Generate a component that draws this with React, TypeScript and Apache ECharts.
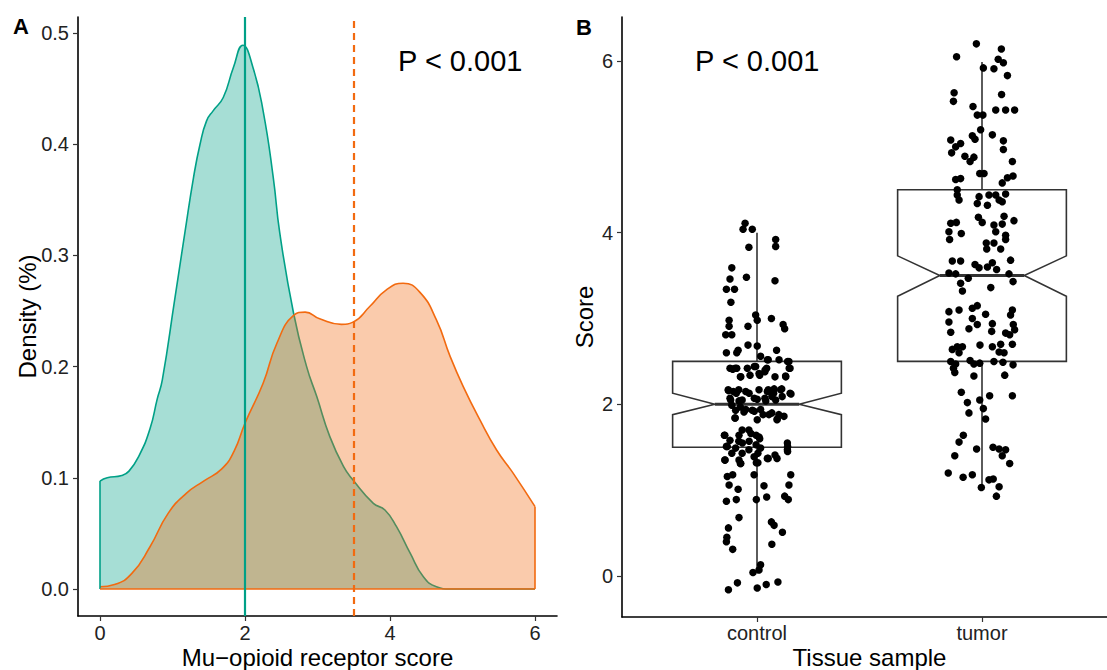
import React, { useEffect, useRef } from "react";
import * as echarts from "echarts";

const FONT = "'Liberation Sans', Arial, Helvetica, sans-serif";
const GREEN = "#00A087";
const ORANGE = "#F26A10";

// ---------- Panel A: density ----------
const densityXTicks = [0, 2, 4, 6];
const densityYTicks = [0, 0.1, 0.2, 0.3, 0.4, 0.5];

const controlDensityX = [0, 0.1, 0.3, 0.4, 0.54, 0.69, 0.79, 0.86, 1.03, 1.17, 1.29, 1.38, 1.47, 1.56, 1.7, 1.84, 1.97, 2.11, 2.25, 2.39, 2.48, 2.67, 2.85, 2.99, 3.17, 3.36, 3.49, 3.77, 3.93, 4.09, 4.28, 4.46, 4.64, 4.83, 6];
const controlDensityY = [0.097, 0.1, 0.102, 0.106, 0.12, 0.144, 0.171, 0.188, 0.26, 0.32, 0.37, 0.4, 0.421, 0.43, 0.442, 0.469, 0.489, 0.469, 0.43, 0.37, 0.32, 0.248, 0.2, 0.173, 0.137, 0.11, 0.098, 0.077, 0.071, 0.056, 0.032, 0.011, 0.002, 0, 0];

const tumorDensityX = [0, 0.2, 0.44, 0.69, 0.94, 1.19, 1.43, 1.68, 1.85, 2.0, 2.25, 2.44, 2.67, 2.83, 3.03, 3.33, 3.49, 3.72, 3.95, 4.18, 4.41, 4.64, 4.83, 5.01, 5.24, 5.47, 5.7, 6.0];
const tumorDensityY = [0.002, 0.004, 0.014, 0.038, 0.068, 0.086, 0.097, 0.108, 0.124, 0.149, 0.185, 0.221, 0.246, 0.249, 0.243, 0.238, 0.24, 0.254, 0.269, 0.275, 0.267, 0.242, 0.209, 0.182, 0.152, 0.125, 0.104, 0.074];

// medians drawn as vertical lines: control (solid), tumor (dashed)
const medianLines = [2, 3.5];

// ---------- Panel B: notched box plot + jitter ----------
const tissueCategories = ["control", "tumor"];
const scoreYTicks = [0, 2, 4, 6];
const boxLower = [0.03, 1.04];
const boxQ1 = [1.5, 2.5];
const boxNotchLow = [1.88, 3.26];
const boxMedian = [2.0, 3.5];
const boxNotchHigh = [2.13, 3.73];
const boxQ3 = [2.5, 4.5];
const boxUpper = [4.0, 5.99];

// [horizontal jitter (category units), score]
const controlPoints = [
  [-0.053, 4.11], [-0.062, 4.04], [-0.021, 4.04], [0.083, 3.92], [0.083, 3.84], [-0.036, 3.83], [-0.112, 3.59], [-0.12, 3.46], [-0.047, 3.48], [0.08, 3.44],
  [-0.136, 3.34], [-0.1, 3.34], [-0.116, 3.19], [-0.006, 3.04], [0.001, 2.98], [0.064, 3.0], [-0.04, 2.91], [0.116, 2.93], [0.123, 2.88], [-0.124, 2.98],
  [-0.124, 2.91], [-0.139, 2.81], [-0.112, 2.81], [-0.04, 2.69], [0.001, 2.68], [-0.084, 2.63], [-0.09, 2.6], [-0.136, 2.6], [0.087, 2.63], [0.016, 2.56],
  [0.046, 2.52], [0.098, 2.52], [0.142, 2.5], [0.147, 2.42], [-0.108, 2.41], [-0.09, 2.42], [-0.043, 2.42], [-0.006, 2.44], [0.036, 2.4], [-0.072, 2.32],
  [-0.031, 2.34], [0.009, 2.36], [0.08, 2.32], [0.127, 2.33], [-0.127, 2.16], [-0.092, 2.13], [-0.05, 2.15], [0.009, 2.17], [0.046, 2.15], [0.076, 2.18],
  [0.11, 2.18], [0.147, 2.13], [-0.117, 2.05], [-0.08, 2.04], [0.001, 2.06], [0.039, 2.04], [0.083, 2.05], [-0.095, 1.93], [-0.058, 1.91], [-0.021, 1.93],
  [0.016, 1.94], [0.053, 1.88], [0.09, 1.83], [0.12, 1.86], [-0.098, 1.84], [0.001, 1.82], [-0.145, 1.64], [-0.08, 1.64], [-0.036, 1.7], [0.009, 1.62],
  [-0.065, 1.55], [-0.132, 1.51], [-0.095, 1.49], [-0.036, 1.47], [0.016, 1.49], [0.135, 1.55], [0.135, 1.47], [-0.142, 1.35], [-0.08, 1.35], [-0.013, 1.39],
  [0.046, 1.37], [0.08, 1.41], [-0.072, 1.31], [-0.003, 1.32], [-0.132, 1.16], [-0.108, 1.18], [-0.013, 1.18], [0.15, 1.18], [-0.124, 1.06], [0.031, 1.05],
  [0.142, 1.06], [-0.084, 1.01], [-0.136, 0.87], [-0.092, 0.89], [-0.003, 0.89], [0.043, 0.92], [0.123, 0.93], [0.139, 0.89], [-0.08, 0.68], [0.064, 0.63],
  [0.076, 0.59], [0.113, 0.51], [-0.127, 0.56], [-0.134, 0.45], [-0.136, 0.4], [-0.108, 0.31], [0.066, 0.37], [0.016, 0.13], [0.009, 0.07], [-0.018, 0.04],
  [-0.087, -0.08], [-0.127, -0.16], [0.001, -0.14], [0.041, -0.1], [0.093, -0.07],
  [-0.12, 2.42], [-0.097, 2.42], [-0.012, 2.44], [0.043, 2.42], [0.05, 2.52], [0.136, 2.5], [0.143, 2.42], [-0.074, 2.32], [0.012, 2.34], [0.035, 2.38],
  [0.128, 2.32], [-0.128, 2.17], [-0.105, 2.15], [-0.081, 2.17], [-0.035, 2.13], [0.05, 2.17], [0.074, 2.13], [0.105, 2.17], [0.151, 2.12], [-0.12, 2.07],
  [-0.066, 2.05], [-0.012, 2.07], [0.035, 2.07], [0.066, 2.09], [0.112, 2.09], [-0.112, 1.99], [-0.074, 1.97], [-0.05, 1.94], [-0.012, 1.92], [0.027, 1.88],
  [0.066, 1.9], [0.097, 1.88], [-0.097, 1.84], [0.089, 1.82], [-0.143, 1.64], [-0.066, 1.7], [-0.027, 1.66], [-0.004, 1.64], [0.012, 1.6], [-0.12, 1.58],
  [-0.081, 1.57], [-0.035, 1.57], [-0.004, 1.53], [-0.136, 1.51], [-0.112, 1.43], [-0.066, 1.43], [0.004, 1.43], [0.05, 1.37], [0.089, 1.37], [0.136, 1.51],
  [0.136, 1.45], [-0.143, 1.35], [-0.074, 1.31], [0.004, 1.32],
];

const tumorPoints = [
  [-0.025, 6.2], [0.086, 6.14], [-0.113, 6.05], [0.072, 6.02], [0.095, 5.98], [0.006, 5.92], [0.053, 5.91], [0.113, 5.83], [-0.124, 5.63], [-0.127, 5.53],
  [0.087, 5.61], [-0.04, 5.47], [-0.021, 5.37], [0.004, 5.37], [0.061, 5.43], [0.105, 5.43], [0.145, 5.43], [-0.006, 5.2], [0.046, 5.14], [-0.043, 5.13],
  [-0.031, 5.09], [0.095, 5.07], [0.095, 4.97], [-0.139, 5.08], [-0.095, 5.04], [-0.117, 5.0], [-0.135, 4.93], [-0.076, 4.89], [-0.036, 4.88], [-0.053, 4.83],
  [0.135, 4.83], [-0.01, 4.69], [0.009, 4.69], [0.113, 4.64], [0.138, 4.66], [0.09, 4.58], [-0.117, 4.62], [-0.095, 4.63], [-0.11, 4.5], [-0.11, 4.44],
  [-0.102, 4.38], [-0.013, 4.42], [-0.021, 4.34], [0.024, 4.32], [0.031, 4.44], [0.061, 4.44], [0.076, 4.38], [0.09, 4.36], [0.105, 4.45], [-0.139, 4.11],
  [-0.114, 4.12], [-0.147, 4.01], [-0.144, 3.92], [-0.092, 3.99], [-0.016, 4.18], [0.001, 4.12], [0.053, 4.09], [0.098, 4.19], [0.142, 4.14], [0.09, 4.1],
  [0.061, 4.01], [0.105, 3.97], [0.105, 3.92], [0.019, 3.88], [0.053, 3.88], [0.021, 3.81], [0.083, 3.81], [-0.132, 3.67], [-0.095, 3.67], [-0.031, 3.63],
  [-0.013, 3.59], [0.024, 3.6], [0.046, 3.65], [0.065, 3.57], [0.127, 3.68], [-0.147, 3.53], [-0.117, 3.52], [-0.061, 3.47], [-0.095, 3.41], [-0.087, 3.32],
  [0.039, 3.36], [0.12, 3.52], [0.138, 3.43], [-0.147, 3.08], [-0.102, 3.1], [-0.043, 3.12], [-0.021, 3.15], [0.016, 3.05], [0.135, 3.1], [0.127, 3.04],
  [-0.147, 2.96], [-0.043, 3.0], [-0.021, 2.93], [0.046, 2.94], [0.139, 2.93], [0.145, 2.87], [-0.139, 2.84], [-0.058, 2.88], [0.043, 2.85], [0.105, 2.83],
  [0.123, 2.81], [-0.132, 2.64], [-0.11, 2.67], [-0.087, 2.67], [-0.102, 2.6], [-0.009, 2.69], [0.046, 2.67], [0.083, 2.7], [0.076, 2.61], [0.098, 2.6],
  [0.135, 2.7], [-0.139, 2.5], [-0.117, 2.47], [-0.127, 2.42], [-0.121, 2.37], [-0.053, 2.51], [-0.036, 2.47], [-0.01, 2.48], [0.053, 2.5], [0.093, 2.49],
  [0.138, 2.46], [-0.036, 2.33], [0.101, 2.34], [-0.092, 2.14], [0.034, 2.1], [0.135, 2.1], [-0.065, 2.02], [-0.01, 2.05], [0.006, 1.95], [-0.058, 1.9],
  [0.016, 1.83], [-0.083, 1.64], [-0.102, 1.56], [-0.121, 1.4], [-0.024, 1.48], [0.049, 1.5], [0.076, 1.48], [0.105, 1.47], [0.09, 1.4], [0.123, 1.31],
  [-0.15, 1.2], [-0.084, 1.15], [-0.043, 1.18], [0.031, 1.12], [0.05, 1.13], [-0.003, 1.03], [0.076, 1.04], [0.064, 0.93],
];

const BOX_WIDTH = 0.75;
const NOTCH_WIDTH = 0.5;

function buildOption(): any {
  const controlDensity = controlDensityX.map((x, i) => [x, controlDensityY[i]]);
  const tumorDensity = tumorDensityX.map((x, i) => [x, tumorDensityY[i]]);
  const boxData = tissueCategories.map((_, i) => [
    i + 1, boxLower[i], boxQ1[i], boxNotchLow[i], boxMedian[i], boxNotchHigh[i], boxQ3[i], boxUpper[i],
  ]);
  const jitterData = [
    ...controlPoints.map(([o, v]) => [1 + o, v]),
    ...tumorPoints.map(([o, v]) => [2 + o, v]),
  ];
  const last = tumorDensityX.length - 1;

  const axisLine = { show: true, onZero: false, lineStyle: { color: "#000", width: 1.6 } };
  const tickStyle = { color: "#333", width: 1.2 };
  const labelBase = { fontSize: 20, lineHeight: 20, color: "#222", fontFamily: FONT };
  const nameStyle = { fontSize: 24, lineHeight: 22, color: "#000", fontFamily: FONT };

  return {
    animation: false,
    backgroundColor: "#fff",
    textStyle: { fontFamily: FONT },
    grid: [
      { left: 78, top: 17, width: 479, height: 599, containLabel: false, outerBoundsMode: "none" },
      { left: 622, top: 17, width: 495, height: 600, containLabel: false, outerBoundsMode: "none" },
    ],
    xAxis: [
      {
        type: "value", gridIndex: 0, min: -0.303, max: 6.303,
        axisLine, splitLine: { show: false },
        axisTick: { show: true, length: 5, lineStyle: tickStyle, customValues: densityXTicks },
        axisLabel: { ...labelBase, margin: 7, customValues: densityXTicks, formatter: (v: number) => String(v) },
        name: "Mu\u2212opioid receptor score", nameLocation: "middle", nameGap: 30, nameMoveOverlap: false,
        nameTextStyle: nameStyle,
      },
      {
        type: "value", gridIndex: 1, min: 0.4, max: 2.6,
        axisLine, splitLine: { show: false },
        axisTick: { show: true, length: 5, lineStyle: tickStyle, customValues: [1, 2] },
        axisLabel: {
          ...labelBase, margin: 6, customValues: [1, 2],
          formatter: (v: number) => tissueCategories[Math.round(v) - 1] ?? "",
        },
        name: "Tissue sample", nameLocation: "middle", nameGap: 29, nameMoveOverlap: false,
        nameTextStyle: nameStyle,
      },
    ],
    yAxis: [
      {
        type: "value", gridIndex: 0, min: -0.0243, max: 0.5144,
        axisLine, splitLine: { show: false },
        axisTick: { show: true, length: 5, lineStyle: tickStyle, customValues: densityYTicks },
        axisLabel: { ...labelBase, margin: 9, customValues: densityYTicks, formatter: (v: number) => v.toFixed(1) },
        name: "Density (%)", nameLocation: "middle", nameRotate: 90, nameGap: 40, nameMoveOverlap: false,
        nameTextStyle: nameStyle,
      },
      {
        type: "value", gridIndex: 1, min: -0.478, max: 6.513,
        axisLine, splitLine: { show: false },
        axisTick: { show: true, length: 5, lineStyle: tickStyle, customValues: scoreYTicks },
        axisLabel: { ...labelBase, margin: 9, customValues: scoreYTicks, formatter: (v: number) => String(v) },
        name: "Score", nameLocation: "middle", nameRotate: 90, nameGap: 27, nameMoveOverlap: false,
        nameTextStyle: nameStyle,
      },
    ],
    series: [
      {
        name: "control density", type: "line", xAxisIndex: 0, yAxisIndex: 0, z: 2,
        data: controlDensity, smooth: 0.5, showSymbol: false, symbol: "none",
        lineStyle: { color: GREEN, width: 1.6 },
        areaStyle: { color: GREEN, opacity: 0.35 },
        markLine: {
          silent: true, symbol: ["none", "none"], label: { show: false },
          lineStyle: { color: GREEN, width: 1.6, type: "solid" },
          data: [[{ coord: [controlDensityX[0], 0] }, { coord: [controlDensityX[0], controlDensityY[0]] }]],
        },
      },
      {
        name: "tumor density", type: "line", xAxisIndex: 0, yAxisIndex: 0, z: 3,
        data: tumorDensity, smooth: 0.5, showSymbol: false, symbol: "none",
        lineStyle: { color: ORANGE, width: 1.6 },
        areaStyle: { color: ORANGE, opacity: 0.35 },
        markLine: {
          silent: true, symbol: ["none", "none"], label: { show: false },
          lineStyle: { color: ORANGE, width: 1.6, type: "solid" },
          data: [
            [{ coord: [tumorDensityX[last], 0] }, { coord: [tumorDensityX[last], tumorDensityY[last]] }],
            [{ coord: [tumorDensityX[0], 0] }, { coord: [tumorDensityX[last], 0] }],
          ],
        },
      },
      {
        name: "medians", type: "line", xAxisIndex: 0, yAxisIndex: 0, z: 10,
        data: [[medianLines[0], 0]], showSymbol: false, symbol: "none", lineStyle: { opacity: 0 },
        markLine: {
          silent: true, symbol: ["none", "none"], label: { show: false },
          data: [
            { xAxis: medianLines[0], lineStyle: { color: GREEN, width: 2.2, type: "solid" } },
            { xAxis: medianLines[1], lineStyle: { color: ORANGE, width: 2.2, type: [7, 5] } },
          ],
        },
      },
      {
        name: "box", type: "custom", xAxisIndex: 1, yAxisIndex: 1, z: 4,
        data: boxData,
        encode: { x: 0, y: [1, 2, 3, 4, 5, 6, 7] },
        renderItem: (params: any, api: any) => {
          const x = api.value(0);
          const lo = api.value(1), q1 = api.value(2), nLo = api.value(3), med = api.value(4);
          const nHi = api.value(5), q3 = api.value(6), hi = api.value(7);
          const half = BOX_WIDTH / 2;
          const L = x - half, R = x + half, inset = half * NOTCH_WIDTH;
          const p = (a: number, b: number) => api.coord([a, b]);
          const stroke = { stroke: "#333", lineWidth: 1.6, fill: null };
          const top = p(x, q3), wTop = p(x, hi), bot = p(x, q1), wBot = p(x, lo);
          const mL = p(L + inset, med), mR = p(R - inset, med);
          return {
            type: "group",
            children: [
              { type: "line", shape: { x1: top[0], y1: top[1], x2: wTop[0], y2: wTop[1] }, style: stroke },
              { type: "line", shape: { x1: bot[0], y1: bot[1], x2: wBot[0], y2: wBot[1] }, style: stroke },
              {
                type: "polygon",
                shape: {
                  points: [p(L, q3), p(L, nHi), p(L + inset, med), p(L, nLo), p(L, q1), p(R, q1), p(R, nLo), p(R - inset, med), p(R, nHi), p(R, q3)],
                },
                style: { stroke: "#333", lineWidth: 1.6, fill: "#fff" },
              },
              { type: "line", shape: { x1: mL[0], y1: mL[1], x2: mR[0], y2: mR[1] }, style: { stroke: "#333", lineWidth: 3 } },
            ],
          };
        },
      },
      {
        name: "samples", type: "scatter", xAxisIndex: 1, yAxisIndex: 1, z: 6,
        data: jitterData, symbol: "circle", symbolSize: 7.5,
        itemStyle: { color: "#000", opacity: 1 },
      },
    ],
    graphic: [
      { type: "text", x: 13, y: 26, style: { text: "A", fontSize: 22, fontWeight: "bold", fontFamily: FONT, fill: "#000", verticalAlign: "middle" } },
      { type: "text", x: 576, y: 27, style: { text: "B", fontSize: 22, fontWeight: "bold", fontFamily: FONT, fill: "#000", verticalAlign: "middle" } },
      { type: "text", x: 398, y: 61, style: { text: "P < 0.001", fontSize: 29, fontFamily: FONT, fill: "#000", verticalAlign: "middle" } },
      { type: "text", x: 695, y: 61, style: { text: "P < 0.001", fontSize: 29, fontFamily: FONT, fill: "#000", verticalAlign: "middle" } },
    ],
  };
}

export default function App() {
  const ref = useRef<HTMLDivElement>(null);
  useEffect(() => {
    if (!ref.current) return;
    const chart = echarts.init(ref.current, null, { renderer: "svg" });
    chart.setOption(buildOption());
    return () => chart.dispose();
  }, []);
  return (
    <div
      ref={ref}
      style={{ position: "fixed", left: 0, top: 0, width: 1107, height: 670, background: "#fff" }}
    />
  );
}
